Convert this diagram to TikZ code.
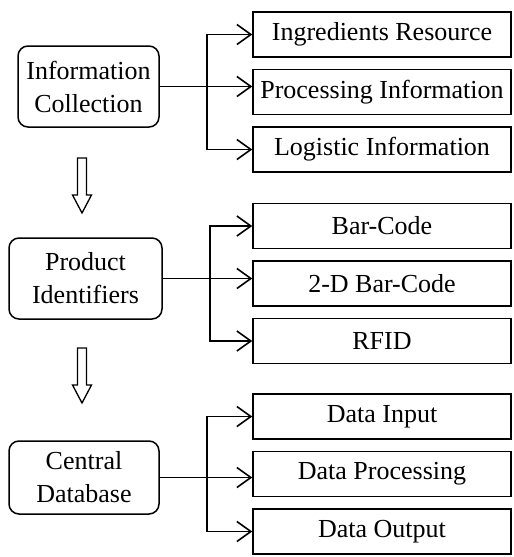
\documentclass[tikz,border=0pt]{standalone}
\usepackage{fontspec}
\newfontfamily\boxfont{Liberation Serif}
\usetikzlibrary{arrows.meta,positioning,calc}
\tikzset{
 stage/.style={draw,line width=1.5pt,rounded corners=10pt,align=center,
             minimum height=81pt,inner sep=0pt,font=\boxfont\fontsize{26}{33}\selectfont},
 item/.style={draw,line width=1.5pt,minimum width=258pt,minimum height=45pt,
             inner sep=0pt,font=\boxfont\fontsize{26}{33}\selectfont},
 arrow/.style={-{Straight Barb[length=14pt,width=20pt]},line width=1.6pt},
 pics/flowarrow/.style={code={
   \draw[line width=1.3pt] (-4.5,0) -- (-4.5,-37) -- (-9.5,-37) -- (0,-55)
     -- (9.5,-37) -- (4.5,-37) -- (4.5,0) -- cycle;}}
}
\begin{document}
\begin{tikzpicture}[x=1pt,y=1pt,node distance=11pt]
\useasboundingbox (0,0) rectangle (514,-557);
\node[stage,minimum width=141pt] (info) at (88.5,-86.5) {Information\\Collection};
\node[stage,minimum width=153pt] (prod) at (85.5,-278.5) {Product\\Identifiers};
\node[stage,minimum width=150pt,minimum height=73pt] (db) at (84,-477.5) {Central\\Database};
\node[item] (ingr) at (382,-34.5) {Ingredients Resource};
\node[item,below=of ingr] (proc) {Processing Information};
\node[item,below=of proc] (logi) {Logistic Information};
\node[item] (bar) at (382,-226) {Bar-Code};
\node[item,below=of bar] (bar2d) {2-D Bar-Code};
\node[item,below=of bar2d] (rfid) {RFID};
\node[item] (din) at (382,-416.5) {Data Input};
\node[item,below=of din] (dproc) {Data Processing};
\node[item,below=of dproc] (dout) {Data Output};
\foreach \src/\a/\b/\c in {info/ingr/proc/logi,prod/bar/bar2d/rfid,db/din/dproc/dout}{
  \coordinate (j) at ($(\src.east)+(47,0)$);
  \draw[arrow] (\src.east) -- (\src.east -| \b.west);
  \draw[arrow] (j) |- (\a.west);
  \draw[arrow] (j) |- (\c.west);
}
\pic at (82,-158) {flowarrow};
\pic at (82,-348) {flowarrow};
\end{tikzpicture}
\end{document}
